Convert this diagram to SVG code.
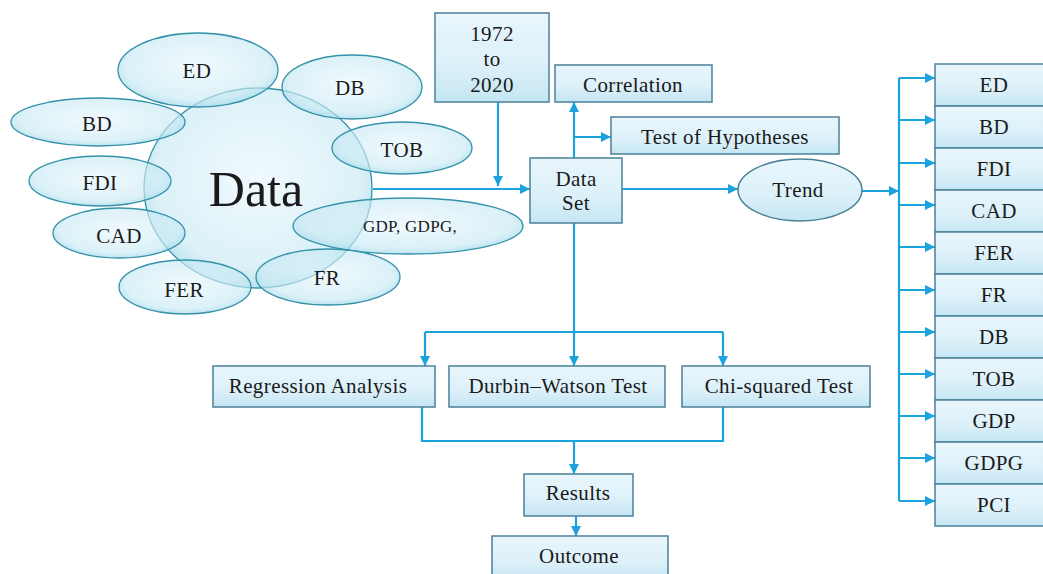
<svg xmlns="http://www.w3.org/2000/svg" width="1043" height="574" viewBox="0 0 1043 574" font-family="'Liberation Serif', 'DejaVu Serif', 'Times New Roman', serif">
<defs>
  <linearGradient id="boxg" x1="0" y1="0" x2="0" y2="1">
    <stop offset="0" stop-color="#e9f6fc"/>
    <stop offset="0.6" stop-color="#dcf0f9"/>
    <stop offset="1" stop-color="#c4e6f3"/>
  </linearGradient>
  <radialGradient id="ellg" cx="0.5" cy="0.45" r="0.6">
    <stop offset="0" stop-color="#e6f6fc" stop-opacity="0.6"/>
    <stop offset="0.75" stop-color="#c8e9f4" stop-opacity="0.65"/>
    <stop offset="1" stop-color="#92d3e6" stop-opacity="0.8"/>
  </radialGradient>
  <marker id="arr" markerUnits="userSpaceOnUse" markerWidth="11" markerHeight="11" refX="10" refY="5" orient="auto">
    <path d="M0,0 L10,5 L0,10 z" fill="#1aa3dc"/>
  </marker>
  <style>
    .box{fill:url(#boxg);stroke:#4a8199;stroke-width:1.5}
    .ell{fill:url(#ellg);stroke:#3592a8;stroke-width:1.3}
    .t{font-family:'Liberation Serif','DejaVu Serif','Times New Roman',serif;font-size:21px;fill:#1a1a1a;text-anchor:middle;letter-spacing:0.4px}
    .c{fill:none;stroke:#1aa3dc;stroke-width:2.2}
    .a{marker-end:url(#arr)}
  </style>
</defs>
<rect width="1043" height="574" fill="#ffffff"/>

<g id="data-cluster">
  <g id="data"><ellipse class="ell" cx="258" cy="188" rx="114" ry="100"/></g>
  <g id="e-ed"><ellipse class="ell" cx="198" cy="70" rx="80" ry="37"/><text class="t" x="197" y="78">ED</text></g>
  <g id="e-bd"><ellipse class="ell" cx="98" cy="122" rx="87" ry="24"/><text class="t" x="97" y="131">BD</text></g>
  <g id="e-fdi"><ellipse class="ell" cx="100" cy="181" rx="71" ry="25"/><text class="t" x="100" y="190">FDI</text></g>
  <g id="e-cad"><ellipse class="ell" cx="119" cy="233" rx="66" ry="25"/><text class="t" x="119" y="243">CAD</text></g>
  <g id="e-fer"><ellipse class="ell" cx="185" cy="287" rx="66" ry="27"/><text class="t" x="184" y="297">FER</text></g>
  <g id="e-db"><ellipse class="ell" cx="352" cy="87" rx="70" ry="32"/><text class="t" x="350" y="95">DB</text></g>
  <g id="e-tob"><ellipse class="ell" cx="402" cy="148" rx="70" ry="26"/><text class="t" x="402" y="157">TOB</text></g>
  <g id="e-gdp"><ellipse class="ell" cx="408" cy="226" rx="115" ry="28"/><text class="t" x="410" y="232" style="font-size:17px;letter-spacing:0.3px">GDP, GDPG,</text></g>
  <g id="e-fr"><ellipse class="ell" cx="328" cy="277" rx="72" ry="28"/><text class="t" x="327" y="285">FR</text></g>
  <text class="t" x="256" y="206" style="font-size:50px;letter-spacing:0px">Data</text>
</g>

<g id="connectors">
  <path class="c a" d="M373,189 H530"/>
  <path class="c a" d="M498,102 V186"/>
  <path class="c a" d="M574,158 V102"/>
  <path class="c a" d="M574,137 H611"/>
  <path class="c a" d="M622,189 H738"/>
  <path class="c a" d="M862,191 H899"/>
  <path class="c" d="M899,78 V501"/>
  <path class="c a" d="M899,78 H935"/>
  <path class="c a" d="M899,120 H935"/>
  <path class="c a" d="M899,163 H935"/>
  <path class="c a" d="M899,205 H935"/>
  <path class="c a" d="M899,247 H935"/>
  <path class="c a" d="M899,290 H935"/>
  <path class="c a" d="M899,332 H935"/>
  <path class="c a" d="M899,374 H935"/>
  <path class="c a" d="M899,416 H935"/>
  <path class="c a" d="M899,458 H935"/>
  <path class="c a" d="M899,501 H935"/>
  <path class="c a" d="M574,223 V366"/>
  <path class="c" d="M425,332 H723"/>
  <path class="c a" d="M425,332 V366"/>
  <path class="c a" d="M723,332 V366"/>
  <path class="c" d="M422,407 V441 H723 V407"/>
  <path class="c a" d="M574,441 V474"/>
  <path class="c a" d="M576,516 V536"/>
</g>

<g id="n-years"><rect class="box" x="435" y="13" width="114" height="89"/>
  <text class="t" x="492" y="41">1972</text><text class="t" x="492" y="66">to</text><text class="t" x="492" y="92">2020</text></g>
<g id="n-correlation"><rect class="box" x="555" y="65" width="157" height="37"/><text class="t" x="633" y="92">Correlation</text></g>
<g id="n-hypotheses"><rect class="box" x="611" y="117" width="228" height="37"/><text class="t" x="725" y="144">Test of Hypotheses</text></g>
<g id="n-dataset"><rect class="box" x="530" y="158" width="92" height="65"/><text class="t" x="576" y="186">Data</text><text class="t" x="576" y="210">Set</text></g>
<g id="n-trend"><ellipse class="box" cx="800" cy="190" rx="62" ry="31"/><text class="t" x="798" y="197">Trend</text></g>

<g id="n-r-ed"><rect class="box" x="935" y="64" width="118" height="42"/><text class="t" x="994" y="92">ED</text></g>
<g id="n-r-bd"><rect class="box" x="935" y="106" width="118" height="42"/><text class="t" x="994" y="134">BD</text></g>
<g id="n-r-fdi"><rect class="box" x="935" y="148" width="118" height="42"/><text class="t" x="994" y="176">FDI</text></g>
<g id="n-r-cad"><rect class="box" x="935" y="190" width="118" height="42"/><text class="t" x="994" y="218">CAD</text></g>
<g id="n-r-fer"><rect class="box" x="935" y="232" width="118" height="42"/><text class="t" x="994" y="260">FER</text></g>
<g id="n-r-fr"><rect class="box" x="935" y="274" width="118" height="42"/><text class="t" x="994" y="302">FR</text></g>
<g id="n-r-db"><rect class="box" x="935" y="316" width="118" height="42"/><text class="t" x="994" y="344">DB</text></g>
<g id="n-r-tob"><rect class="box" x="935" y="358" width="118" height="42"/><text class="t" x="994" y="386">TOB</text></g>
<g id="n-r-gdp"><rect class="box" x="935" y="400" width="118" height="42"/><text class="t" x="994" y="428">GDP</text></g>
<g id="n-r-gdpg"><rect class="box" x="935" y="442" width="118" height="42"/><text class="t" x="994" y="470">GDPG</text></g>
<g id="n-r-pci"><rect class="box" x="935" y="484" width="118" height="42"/><text class="t" x="994" y="512">PCI</text></g>

<g id="n-regression"><rect class="box" x="213" y="366" width="222" height="41"/><text class="t" x="318" y="393">Regression Analysis</text></g>
<g id="n-durbin"><rect class="box" x="449" y="366" width="216" height="41"/><text class="t" x="558" y="393">Durbin–Watson Test</text></g>
<g id="n-chi"><rect class="box" x="682" y="366" width="188" height="41"/><text class="t" x="779" y="393">Chi-squared Test</text></g>
<g id="n-results"><rect class="box" x="524" y="474" width="109" height="42"/><text class="t" x="578" y="500">Results</text></g>
<g id="n-outcome"><rect class="box" x="492" y="536" width="176" height="45"/><text class="t" x="579" y="563">Outcome</text></g>
</svg>
